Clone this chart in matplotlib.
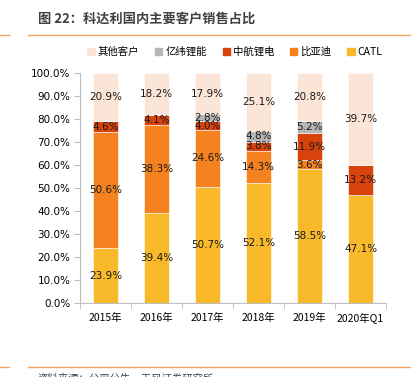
import matplotlib
matplotlib.use("Agg")
import matplotlib.pyplot as plt
import numpy as np
from matplotlib.lines import Line2D
import matplotlib.patches as mpatches

plt.rcParams['font.family'] = ['Noto Sans CJK SC', 'DejaVu Sans']

# --- data ---
years = ['2015年', '2016年', '2017年', '2018年', '2019年', '2020年Q1']
catl = [23.9, 39.4, 50.7, 52.1, 58.5, 47.1]
byd = [50.6, 38.3, 24.6, 14.3, 3.6, 0.0]
zhonghang = [4.6, 4.1, 4.0, 3.8, 11.9, 13.2]
yiwei = [0.0, 0.0, 2.8, 4.8, 5.2, 0.0]
others = [20.9, 18.2, 17.9, 25.1, 20.8, 39.7]

series = [('CATL', catl, '#F8BA2A'),
          ('比亚迪', byd, '#F4821F'),
          ('中航锂电', zhonghang, '#D8420B'),
          ('亿纬锂能', yiwei, '#B5B5B5'),
          ('其他客户', others, '#FBE5D7')]

fig = plt.figure(figsize=(4.16, 3.77), dpi=100)
ax = fig.add_axes([0.1923, 0.1955, 0.7357, 0.6101])

x = np.arange(len(years))
bottom = np.zeros(len(years))
for name, vals, col in series:
    vals = np.array(vals)
    ax.bar(x, vals, 0.5, bottom=bottom, color=col, edgecolor='white', linewidth=0.4, label=name)
    for i, v in enumerate(vals):
        if v > 0:
            ax.text(x[i], bottom[i] + v / 2, '%.1f%%' % v, ha='center', va='center',
                    fontsize=7.5, color='#1a1a1a', family='DejaVu Sans')
    bottom += vals

ax.set_xlim(-0.5, 5.5)
ax.set_ylim(0, 100)
ax.set_yticks(np.arange(0, 101, 10))
ax.set_yticklabels(['%.1f%%' % v for v in np.arange(0, 101, 10)], fontsize=7.5, family='DejaVu Sans')
ax.set_xticks(x)
ax.set_xticklabels(years, fontsize=7.5)
ax.set_xticks(np.arange(-0.5, 6, 1), minor=True)
ax.tick_params(axis='x', which='major', length=0, pad=7)
ax.tick_params(axis='x', which='minor', length=4, color='#BFBFBF', direction='out')
ax.tick_params(axis='y', length=4, color='#BFBFBF', pad=3)
for s in ['top', 'right']:
    ax.spines[s].set_visible(False)
ax.spines['left'].set_color('#BFBFBF')
ax.spines['bottom'].set_color('#BFBFBF')

# legend (reverse order as in reference)
handles = [mpatches.Patch(color=c, label=n) for n, v, c in series[::-1]]
fig.legend(handles=handles, loc='center', bbox_to_anchor=(0.565, 0.862), ncol=5,
           frameon=False, fontsize=7.5, handlelength=0.7, handleheight=0.7,
           handletextpad=0.3, columnspacing=1.5)

# title and decorative lines
fig.text(0.091, 0.951, '图 22：科达利国内主要客户销售占比', fontsize=9.5, color='#404040',
         va='center', ha='left', fontweight='bold')
fig.add_artist(Line2D([0, 0.022], [0.907, 0.907], color='#F4A460', lw=1))
fig.add_artist(Line2D([0.067, 0.986], [0.907, 0.907], color='#F4A460', lw=1))
fig.add_artist(Line2D([0, 0.022], [0.027, 0.027], color='#F4A460', lw=1))
fig.add_artist(Line2D([0.067, 0.986], [0.027, 0.027], color='#F4A460', lw=1))
fig.text(0.089, -0.005, '资料来源：公司公告，天风证券研究所', fontsize=7.5, color='#404040',
         va='center', ha='left')

fig.savefig('out.png', dpi=100)
